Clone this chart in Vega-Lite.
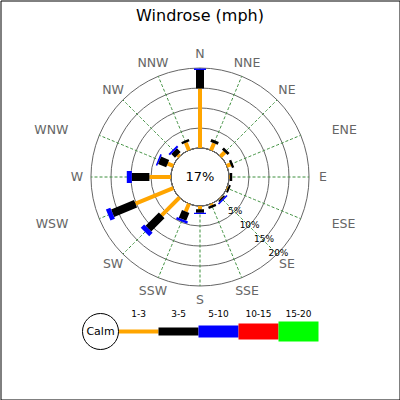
{
  "$schema": "https://vega.github.io/schema/vega-lite/v6.json",
  "title": {"text": "Windrose (mph)", "fontSize": 16, "fontWeight": "normal", "color": "#000", "offset": -23},
  "width": 399,
  "height": 399,
  "autosize": "none",
  "padding": 0.5,
  "background": "white",
  "config": {"font": "DejaVu Sans", "view": {"stroke": "#000", "strokeWidth": 1}},
  "datasets": {
    "dirs": [
      {"dir": "N", "deg": 0}, {"dir": "NNE", "deg": 22.5}, {"dir": "NE", "deg": 45}, {"dir": "ENE", "deg": 67.5},
      {"dir": "E", "deg": 90}, {"dir": "ESE", "deg": 112.5}, {"dir": "SE", "deg": 135}, {"dir": "SSE", "deg": 157.5},
      {"dir": "S", "deg": 180}, {"dir": "SSW", "deg": 202.5}, {"dir": "SW", "deg": 225}, {"dir": "WSW", "deg": 247.5},
      {"dir": "W", "deg": 270}, {"dir": "WNW", "deg": 292.5}, {"dir": "NW", "deg": 315}, {"dir": "NNW", "deg": 337.5}
    ],
    "bars": [
      {"dir": "N", "speed": 1, "pct": 14.9}, {"dir": "N", "speed": 2, "pct": 4.6}, {"dir": "N", "speed": 3, "pct": 0.4},
      {"dir": "NNE", "speed": 1, "pct": 1.9}, {"dir": "NNE", "speed": 2, "pct": 0.75},
      {"dir": "NE", "speed": 1, "pct": 1.5}, {"dir": "NE", "speed": 2, "pct": 0.7},
      {"dir": "ENE", "speed": 1, "pct": 1.0}, {"dir": "ENE", "speed": 2, "pct": 0.6},
      {"dir": "E", "speed": 1, "pct": 0.2}, {"dir": "E", "speed": 2, "pct": 0.6},
      {"dir": "ESE", "speed": 1, "pct": 0.2}, {"dir": "ESE", "speed": 2, "pct": 0.5},
      {"dir": "SE", "speed": 1, "pct": 0.2}, {"dir": "SE", "speed": 2, "pct": 0.4}, {"dir": "SE", "speed": 3, "pct": 0.4},
      {"dir": "SSE", "speed": 1, "pct": 0.4}, {"dir": "SSE", "speed": 2, "pct": 0.6},
      {"dir": "S", "speed": 1, "pct": 0.8}, {"dir": "S", "speed": 2, "pct": 0.9}, {"dir": "S", "speed": 3, "pct": 0.3},
      {"dir": "SSW", "speed": 1, "pct": 2.1}, {"dir": "SSW", "speed": 2, "pct": 2.1}, {"dir": "SSW", "speed": 3, "pct": 0.6},
      {"dir": "SW", "speed": 1, "pct": 6.3}, {"dir": "SW", "speed": 2, "pct": 4.7}, {"dir": "SW", "speed": 3, "pct": 1.2},
      {"dir": "WSW", "speed": 1, "pct": 10.2}, {"dir": "WSW", "speed": 2, "pct": 6.2}, {"dir": "WSW", "speed": 3, "pct": 1.2},
      {"dir": "W", "speed": 1, "pct": 5.4}, {"dir": "W", "speed": 2, "pct": 4.4}, {"dir": "W", "speed": 3, "pct": 1.25},
      {"dir": "WNW", "speed": 1, "pct": 1.5}, {"dir": "WNW", "speed": 2, "pct": 2.2}, {"dir": "WNW", "speed": 3, "pct": 0.4},
      {"dir": "NW", "speed": 1, "pct": 0.6}, {"dir": "NW", "speed": 2, "pct": 1.3}, {"dir": "NW", "speed": 3, "pct": 0.5},
      {"dir": "NNW", "speed": 1, "pct": 2.0}, {"dir": "NNW", "speed": 2, "pct": 0.6}
    ],
    "rings": [
      {"pct": 5, "label": "5%"}, {"pct": 10, "label": "10%"}, {"pct": 15, "label": "15%"}, {"pct": 20, "label": "20%"}
    ],
    "calm": [{"calm": 0.17}],
    "bands": [
      {"speed": 0, "label": "Calm"}, {"speed": 1, "label": "1-3"}, {"speed": 2, "label": "3-5"},
      {"speed": 3, "label": "5-10"}, {"speed": 4, "label": "10-15"}, {"speed": 5, "label": "15-20"}
    ]
  },
  "layer": [
    {
      "data": {"name": "rings"},
      "mark": {"type": "arc", "filled": false, "stroke": "#666666", "strokeWidth": 1, "yOffset": -23},
      "encoding": {
        "theta": {"datum": 0, "type": "quantitative", "stack": null, "scale": {"type": "linear", "domain": [0, 360], "range": [0, 6.283185307179586]}},
        "theta2": {"datum": 360},
        "radius": {"field": "pct", "type": "quantitative", "stack": null, "scale": {"type": "linear", "domain": [0, 20], "range": [29, 109]}}
      }
    },
    {
      "data": {"name": "dirs"},
      "mark": {"type": "arc", "filled": false, "stroke": "#3d8f3d", "strokeWidth": 1, "strokeDash": [1.5, 3.5], "yOffset": -23},
      "encoding": {
        "theta": {"field": "deg", "type": "quantitative", "stack": null},
        "theta2": {"field": "deg"},
        "radius": {"datum": 20, "type": "quantitative"},
        "radius2": {"datum": 0}
      }
    },
    {
      "data": {"name": "calm"},
      "mark": {"type": "arc", "fill": "white", "stroke": "#666666", "strokeWidth": 1, "yOffset": -23},
      "encoding": {
        "theta": {"datum": 0, "type": "quantitative", "stack": null},
        "theta2": {"datum": 360},
        "radius": {"datum": 0, "type": "quantitative"}
      }
    },
    {
      "data": {"name": "bars"},
      "transform": [
        {"lookup": "dir", "from": {"data": {"name": "dirs"}, "key": "dir", "fields": ["deg"]}},
        {"stack": "pct", "groupby": ["dir"], "sort": [{"field": "speed", "order": "ascending"}], "as": ["p0", "p1"]}
      ],
      "mark": {"type": "arc", "filled": false, "strokeJoin": "bevel", "yOffset": -23},
      "encoding": {
        "theta": {"field": "deg", "type": "quantitative", "stack": null},
        "theta2": {"field": "deg"},
        "radius": {"field": "p1", "type": "quantitative"},
        "radius2": {"field": "p0"},
        "color": {"field": "speed", "type": "ordinal", "legend": null,
          "scale": {"domain": [1, 2, 3, 4, 5], "range": ["#ffa500", "#000000", "#0000ff", "#ff0000", "#00ff00"]}},
        "strokeWidth": {"field": "speed", "type": "quantitative", "legend": null, "scale": {"domain": [0, 5], "range": [0, 20]}}
      }
    },
    {
      "data": {"name": "dirs"},
      "transform": [{"filter": "indexof(['ENE', 'ESE', 'WNW', 'WSW'], datum.dir) < 0"}],
      "mark": {"type": "text", "fontSize": 12.5, "color": "#666666", "yOffset": -23},
      "encoding": {
        "theta": {"field": "deg", "type": "quantitative", "stack": null},
        "radius": {"datum": 23.5, "type": "quantitative"},
        "text": {"field": "dir"}
      }
    },
    {
      "data": {"name": "dirs"},
      "transform": [{"filter": "datum.dir == 'ENE' || datum.dir == 'ESE'"}],
      "mark": {"type": "text", "fontSize": 12.5, "color": "#666666", "align": "left", "dx": 18, "yOffset": -23},
      "encoding": {
        "theta": {"field": "deg", "type": "quantitative", "stack": null},
        "radius": {"datum": 23.5, "type": "quantitative"},
        "text": {"field": "dir"}
      }
    },
    {
      "data": {"name": "dirs"},
      "transform": [{"filter": "datum.dir == 'WNW' || datum.dir == 'WSW'"}],
      "mark": {"type": "text", "fontSize": 12.5, "color": "#666666", "align": "right", "dx": -18, "yOffset": -23},
      "encoding": {
        "theta": {"field": "deg", "type": "quantitative", "stack": null},
        "radius": {"datum": 23.5, "type": "quantitative"},
        "text": {"field": "dir"}
      }
    },
    {
      "data": {"name": "rings"},
      "mark": {"type": "text", "fontSize": 9, "color": "#000", "yOffset": -23},
      "encoding": {
        "theta": {"datum": 134, "type": "quantitative"},
        "radius": {"field": "pct", "type": "quantitative", "stack": null},
        "text": {"field": "label"}
      }
    },
    {
      "data": {"name": "calm"},
      "mark": {"type": "text", "fontSize": 13, "color": "#000", "yOffset": -23},
      "encoding": {
        "text": {"field": "calm", "type": "quantitative", "format": ".0%"}
      }
    },
    {
      "data": {"name": "bands"},
      "transform": [
        {"filter": "datum.speed > 0"},
        {"stack": "speed", "groupby": ["speed"], "offset": "center", "as": ["w0", "w1"]}
      ],
      "mark": {"type": "bar"},
      "encoding": {
        "x": {"field": "speed", "type": "ordinal", "axis": null,
          "scale": {"type": "band", "domain": [0, 1, 2, 3, 4, 5], "range": [78, 318], "paddingInner": 0, "paddingOuter": 0}},
        "y": {"field": "w0", "type": "quantitative", "axis": null,
          "scale": {"domain": [0, 5], "range": [341, 321]}},
        "y2": {"field": "w1"},
        "color": {"field": "speed", "type": "ordinal", "legend": null}
      }
    },
    {
      "data": {"name": "bands"},
      "transform": [{"filter": "datum.speed == 0"}],
      "mark": {"type": "point", "shape": "circle", "size": 1296, "filled": true, "fill": "white", "stroke": "#000", "strokeWidth": 1, "opacity": 1},
      "encoding": {
        "x": {"field": "speed", "type": "ordinal", "bandPosition": 0.55},
        "y": {"datum": 2.5, "type": "quantitative"}
      }
    },
    {
      "data": {"name": "bands"},
      "transform": [{"filter": "datum.speed == 0"}],
      "mark": {"type": "text", "fontSize": 11, "color": "#000"},
      "encoding": {
        "x": {"field": "speed", "type": "ordinal", "bandPosition": 0.55},
        "y": {"datum": 2.5, "type": "quantitative"},
        "text": {"field": "label"}
      }
    },
    {
      "data": {"name": "bands"},
      "transform": [{"filter": "datum.speed > 0"}],
      "mark": {"type": "text", "fontSize": 9, "color": "#000"},
      "encoding": {
        "x": {"field": "speed", "type": "ordinal"},
        "y": {"datum": 6.9, "type": "quantitative"},
        "text": {"field": "label"}
      }
    }
  ]
}
